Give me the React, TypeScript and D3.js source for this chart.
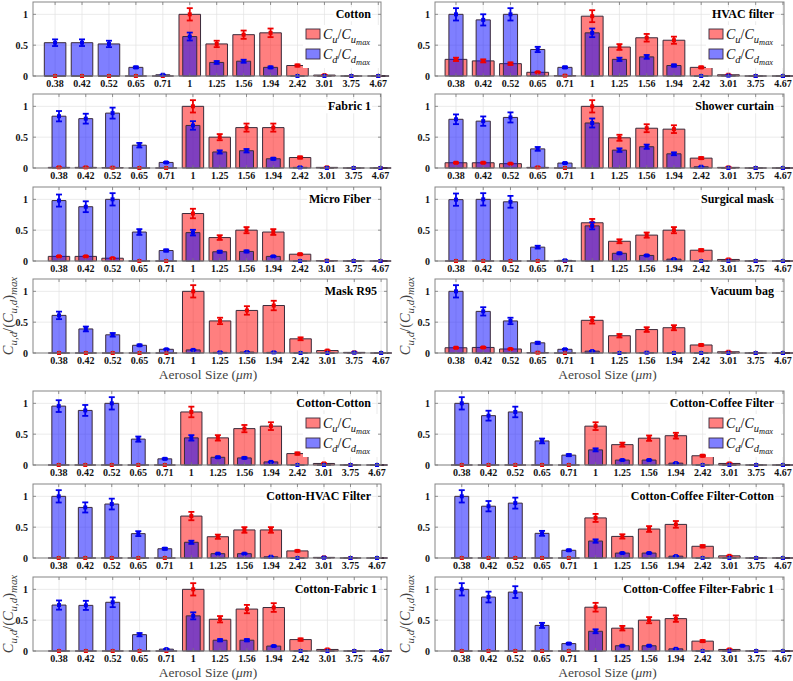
import React from 'react';
import * as d3 from 'd3';

const SIZES = ['0.38', '0.42', '0.52', '0.65', '0.71', '1', '1.25', '1.56', '1.94', '2.42', '3.01', '3.75', '4.67'];
const Y_TICKS = [0, 0.5, 1];
const ERR_REL = 0.1;

// Cu / Cu_max (red) and Cd / Cd_max (blue)
const cottonCu = [0, 0, 0, 0, 0, 1.0, 0.52, 0.67, 0.7, 0.17, 0.015, 0, 0];
const cottonCd = [0.54, 0.54, 0.52, 0.14, 0.02, 0.64, 0.22, 0.24, 0.14, 0, 0, 0, 0];
const fabric1Cu = [0.01, 0.01, 0.005, 0, 0, 1.0, 0.5, 0.655, 0.655, 0.17, 0.01, 0, 0];
const fabric1Cd = [0.84, 0.8, 0.89, 0.37, 0.09, 0.69, 0.26, 0.28, 0.15, 0.01, 0, 0, 0];
const microFiberCu = [0.075, 0.075, 0.045, 0, 0, 0.77, 0.38, 0.5, 0.47, 0.11, 0.005, 0, 0];
const microFiberCd = [0.98, 0.88, 1.0, 0.47, 0.17, 0.46, 0.15, 0.155, 0.075, 0, 0, 0, 0];
const maskR95Cu = [0, 0, 0, 0, 0, 1.0, 0.52, 0.69, 0.77, 0.23, 0.04, 0.01, 0];
const maskR95Cd = [0.61, 0.39, 0.295, 0.125, 0.06, 0.05, 0.01, 0.015, 0.01, 0, 0, 0.005, 0];
const hvacCu = [0.27, 0.245, 0.2, 0.06, 0.005, 0.97, 0.47, 0.62, 0.58, 0.14, 0.02, 0, 0];
const hvacCd = [1.0, 0.91, 1.0, 0.43, 0.14, 0.7, 0.27, 0.31, 0.17, 0, 0.005, 0, 0];
const showerCu = [0.085, 0.085, 0.07, 0.01, 0, 1.0, 0.49, 0.645, 0.63, 0.16, 0.01, 0, 0];
const showerCd = [0.79, 0.76, 0.82, 0.31, 0.08, 0.73, 0.29, 0.345, 0.23, 0.02, 0, 0, 0];
const surgicalCu = [0, 0, 0, 0, 0, 0.62, 0.32, 0.42, 0.5, 0.175, 0.025, 0, 0];
const surgicalCd = [0.995, 1.0, 0.96, 0.225, 0.01, 0.57, 0.125, 0.09, 0.03, 0, 0, 0, 0];
const vacuumCu = [0.085, 0.09, 0.065, 0.005, 0, 0.53, 0.28, 0.38, 0.41, 0.13, 0.02, 0, 0];
const vacuumCd = [1.0, 0.675, 0.52, 0.165, 0.06, 0.03, 0, 0.005, 0, 0, 0, 0, 0];
const cotCotCu = [0, 0, 0, 0, 0, 0.86, 0.44, 0.59, 0.63, 0.185, 0.025, 0, 0];
const cotCotCd = [0.955, 0.885, 1.0, 0.42, 0.1, 0.44, 0.125, 0.115, 0.05, 0, 0, 0, 0];
const cotHvacCu = [0, 0, 0, 0, 0, 0.68, 0.345, 0.455, 0.455, 0.115, 0.01, 0, 0];
const cotHvacCd = [1.0, 0.82, 0.875, 0.395, 0.15, 0.255, 0.07, 0.07, 0.02, 0, 0.005, 0, 0];
const cotFab1Cu = [0, 0, 0, 0, 0, 1.0, 0.515, 0.68, 0.705, 0.185, 0.025, 0, 0];
const cotFab1Cd = [0.745, 0.74, 0.79, 0.265, 0.03, 0.57, 0.175, 0.175, 0.08, 0, 0, 0, 0];
const cotCofCu = [0, 0, 0, 0, 0, 0.63, 0.33, 0.435, 0.475, 0.15, 0.025, 0, 0];
const cotCofCd = [1.0, 0.8, 0.86, 0.39, 0.16, 0.245, 0.08, 0.08, 0.03, 0, 0, 0, 0];
const cotCofCotCu = [0, 0, 0, 0, 0, 0.65, 0.35, 0.47, 0.545, 0.19, 0.035, 0, 0];
const cotCofCotCd = [1.0, 0.84, 0.89, 0.4, 0.125, 0.275, 0.08, 0.08, 0.03, 0, 0, 0, 0];
const cotCofFabCu = [0, 0, 0, 0, 0, 0.71, 0.37, 0.5, 0.525, 0.16, 0.025, 0, 0];
const cotCofFabCd = [1.0, 0.875, 0.955, 0.415, 0.12, 0.32, 0.085, 0.085, 0.035, 0, 0, 0, 0];

type PanelDef = {
  name: string; col: number; row: number; cu: number[]; cd: number[];
  legend?: boolean; labels?: boolean; xlim: [number, number]; right: number; wideBlue?: number;
};

const PANELS: PanelDef[] = [
  { name: 'Cotton', col: 0, row: 0, cu: cottonCu, cd: cottonCd, legend: true, xlim: [0.18, 13.1], right: 381, wideBlue: 3 },
  { name: 'Fabric 1', col: 0, row: 1, cu: fabric1Cu, cd: fabric1Cd, xlim: [0.03, 13.02], right: 381 },
  { name: 'Micro Fiber', col: 0, row: 2, cu: microFiberCu, cd: microFiberCd, xlim: [0.03, 13.02], right: 381 },
  { name: 'Mask R95', col: 0, row: 3, cu: maskR95Cu, cd: maskR95Cd, labels: true, xlim: [0.03, 13.22], right: 387 },
  { name: 'Cotton-Cotton', col: 0, row: 4, cu: cotCotCu, cd: cotCotCd, legend: true, xlim: [0.03, 13.15], right: 381 },
  { name: 'Cotton-HVAC Filter', col: 0, row: 5, cu: cotHvacCu, cd: cotHvacCd, xlim: [0.03, 13.15], right: 381 },
  { name: 'Cotton-Fabric 1', col: 0, row: 6, cu: cotFab1Cu, cd: cotFab1Cd, labels: true, xlim: [0.03, 13.22], right: 387 },
  { name: 'HVAC filter', col: 1, row: 0, cu: hvacCu, cd: hvacCd, legend: true, xlim: [0.23, 13.04], right: 784 },
  { name: 'Shower curtain', col: 1, row: 1, cu: showerCu, cd: showerCd, xlim: [0.23, 13.04], right: 784 },
  { name: 'Surgical mask', col: 1, row: 2, cu: surgicalCu, cd: surgicalCd, xlim: [0.23, 13.04], right: 784 },
  { name: 'Vacuum bag', col: 1, row: 3, cu: vacuumCu, cd: vacuumCd, labels: true, xlim: [0.23, 13.04], right: 784 },
  { name: 'Cotton-Coffee Filter', col: 1, row: 4, cu: cotCofCu, cd: cotCofCd, legend: true, xlim: [0.0, 13.04], right: 784 },
  { name: 'Cotton-Coffee Filter-Cotton', col: 1, row: 5, cu: cotCofCotCu, cd: cotCofCotCd, xlim: [0.0, 13.04], right: 784 },
  { name: 'Cotton-Coffee Filter-Fabric 1', col: 1, row: 6, cu: cotCofFabCu, cd: cotCofFabCd, labels: true, xlim: [0.0, 13.04], right: 784 },
];

const ROW_BOTTOM = [76, 168, 261, 353, 465, 558, 651];
const PANEL_H = 74;
const COL_LEFT = [33, 435];
const FONT = "'Liberation Serif', 'Times New Roman', Times, 'DejaVu Serif', serif";

let canvasCtx: CanvasRenderingContext2D | null = null;
function measure(text: string, font: string) {
  if (!canvasCtx) canvasCtx = document.createElement('canvas').getContext('2d');
  if (!canvasCtx) return text.length * 6;
  canvasCtx.font = font;
  return canvasCtx.measureText(text).width;
}

type Seg = { t: string; lvl: number; it?: boolean };
const LVL_SIZE = [1, 0.75, 0.6];
const LVL_OFF = [0, 0.28, 0.46];

function Rich({ segs, x, y, size, anchor, transform, fill }: { segs: Seg[]; x: number; y: number; size: number; anchor?: string; transform?: string; fill?: string }) {
  let prev = 0;
  return (
    <text x={x} y={y} style={{ fontFamily: FONT }} fontSize={size} textAnchor={anchor || 'start'} transform={transform} fill={fill || '#000'}>
      {segs.map((s, i) => {
        const dy = (LVL_OFF[s.lvl] - LVL_OFF[prev]) * size;
        prev = s.lvl;
        return (
          <tspan key={i} dy={dy} fontSize={size * LVL_SIZE[s.lvl]} fontStyle={s.it === false ? 'normal' : 'italic'}>{s.t}</tspan>
        );
      })}
    </text>
  );
}

const LEG_U: Seg[] = [{ t: 'C', lvl: 0 }, { t: 'u', lvl: 1 }, { t: '/', lvl: 0, it: false }, { t: 'C', lvl: 0 }, { t: 'u', lvl: 1 }, { t: 'max', lvl: 2 }];
const LEG_D: Seg[] = [{ t: 'C', lvl: 0 }, { t: 'd', lvl: 1 }, { t: '/', lvl: 0, it: false }, { t: 'C', lvl: 0 }, { t: 'd', lvl: 1 }, { t: 'max', lvl: 2 }];
const YLAB: Seg[] = [{ t: 'C', lvl: 0 }, { t: 'u,d', lvl: 1 }, { t: '/(', lvl: 0, it: false }, { t: 'C', lvl: 0 }, { t: 'u,d', lvl: 1 }, { t: ')', lvl: 0, it: false }, { t: 'max', lvl: 1 }];

const RED_FILL = 'rgba(255,0,0,0.5)';
const BLUE_FILL = 'rgba(0,0,255,0.5)';
const EDGE = '#3a2a3a';

function Panel({ p }: { p: PanelDef }) {
  const left = COL_LEFT[p.col];
  const right = p.right;
  const bottom = ROW_BOTTOM[p.row];
  const top = bottom - PANEL_H;
  const x = d3.scaleLinear().domain(p.xlim).range([left, right]);
  const y = d3.scaleLinear().domain([0, 1.2]).range([bottom, top]);
  const idx = SIZES.map((_, i) => i + 1);

  const barPath = (i: number, v: number, w: number) => {
    const xa = x(i + 1 - w / 2), xb = x(i + 1 + w / 2);
    return `M${xa},${y(0)}V${y(v)}H${xb}V${y(0)}Z`;
  };

  const errBars = (vals: number[], color: string) => vals.map((v, i) => {
    const cx = x(i + 1);
    const e = v * ERR_REL;
    const y1 = y(v + e), y2 = y(v - e);
    return (
      <g key={i} stroke={color} strokeWidth={1.8}>
        {e > 0 && <line x1={cx} x2={cx} y1={y1} y2={y2} />}
        {e > 0 && <line x1={cx - 3} x2={cx + 3} y1={y1} y2={y1} />}
        {e > 0 && <line x1={cx - 3} x2={cx + 3} y1={y2} y2={y2} />}
        <rect x={cx - 2} y={y(v) - 2} width={4} height={4} fill={color} stroke="none" />
      </g>
    );
  });

  const titleFont = `bold 12px ${FONT}`;
  const tw = measure(p.name, titleFont);
  const titleRight = right - 10;
  const titleY = y(1);

  return (
    <g>
      <g stroke="#e2e2e2" strokeWidth={0.7}>
        {idx.map((i) => <line key={'gx' + i} x1={x(i)} x2={x(i)} y1={top} y2={bottom} />)}
        {Y_TICKS.map((t) => <line key={'gy' + t} x1={left} x2={right} y1={y(t)} y2={y(t)} />)}
      </g>
      <g fill={RED_FILL} stroke={EDGE} strokeWidth={1}>
        {p.cu.map((v, i) => <path key={i} d={barPath(i, v, 0.8)} />)}
      </g>
      <g fill={BLUE_FILL} stroke={EDGE} strokeWidth={1}>
        {p.cd.map((v, i) => <path key={i} d={barPath(i, v, p.wideBlue && i < p.wideBlue ? 0.8 : 0.52)} />)}
      </g>
      {errBars(p.cu, '#ee0000')}
      {errBars(p.cd, '#0000ee')}
      <rect x={titleRight - tw - 2} y={titleY - 7} width={tw + 3} height={14} fill="#fff" />
      <text x={titleRight} y={titleY + 4} textAnchor="end" style={{ fontFamily: FONT }} fontWeight="bold" fontSize={12}>{p.name}</text>
      {p.legend && (
        <g>
          <rect x={right - 78} y={top + 23} width={77} height={43} fill="#fff" />
          <rect x={right - 75} y={top + 27} width={14} height={10} fill={RED_FILL} stroke={EDGE} strokeWidth={0.9} />
          <rect x={right - 75} y={top + 47} width={14} height={10} fill={BLUE_FILL} stroke={EDGE} strokeWidth={0.9} />
          <Rich segs={LEG_U} x={right - 58} y={top + 37} size={14} fill="#111" />
          <Rich segs={LEG_D} x={right - 58} y={top + 57} size={14} fill="#111" />
        </g>
      )}
      <rect x={left} y={top} width={right - left} height={bottom - top} fill="none" stroke="#858585" strokeWidth={1} />
      <g stroke="#777" strokeWidth={0.8}>
        {idx.map((i) => (
          <g key={'t' + i}>
            <line x1={x(i)} x2={x(i)} y1={bottom} y2={bottom - 3} />
            <line x1={x(i)} x2={x(i)} y1={top} y2={top + 3} />
          </g>
        ))}
        {Y_TICKS.map((t) => (
          <g key={'ty' + t}>
            <line x1={left} x2={left + 3} y1={y(t)} y2={y(t)} />
            <line x1={right} x2={right - 3} y1={y(t)} y2={y(t)} />
          </g>
        ))}
      </g>
      <g style={{ fontFamily: FONT }} fontWeight="bold" fontSize={10} fill="#111">
        {SIZES.map((s, i) => <text key={s} x={x(i + 1)} y={bottom + 11} textAnchor="middle">{s}</text>)}
        {Y_TICKS.map((t) => <text key={'yl' + t} x={left - 5} y={y(t) + 3.5} textAnchor="end">{String(t)}</text>)}
      </g>
      {p.labels && (
        <g>
          <Rich segs={YLAB} x={0} y={0} size={14.5} anchor="middle" fill="#444"
            transform={`translate(${p.col === 0 ? 13 : 410},${(top + bottom) / 2}) rotate(-90)`} />
          <text x={(left + right) / 2 - 2} y={bottom + 26} textAnchor="middle" style={{ fontFamily: FONT }} fontSize={13.5} fill="#444">
            Aerosol Size (<tspan fontStyle="italic">μm</tspan>)
          </text>
        </g>
      )}
    </g>
  );
}

export default function App() {
  return (
    <div style={{ position: 'absolute', left: 0, top: 0 }}>
      <svg width={793} height={681} viewBox="0 0 793 681" style={{ display: 'block', background: '#fff' }}>
        <rect width={793} height={681} fill="#fff" />
        {PANELS.map((p) => <Panel key={p.name} p={p} />)}
      </svg>
    </div>
  );
}
